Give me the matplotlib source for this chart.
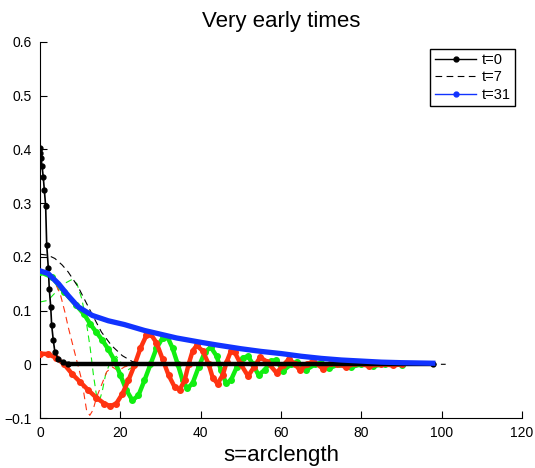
import numpy as np
import matplotlib
matplotlib.use("Agg")
import matplotlib.pyplot as plt

plt.rcParams['font.family'] = ['Liberation Sans', 'DejaVu Sans']

############## DATA ############################################
# t=0 : black, line + dots
s_t0 = [0, 0.1, 0.25, 0.5, 0.8, 1.07, 1.4, 1.66, 2.07, 2.3, 2.66, 2.9, 3.3, 3.7, 4.6, 5.7, 7, 97.8]
u_t0 = [0.402, 0.393, 0.384, 0.369, 0.349, 0.325, 0.295, 0.223, 0.179, 0.141, 0.107,
        0.073, 0.045, 0.023, 0.009, 0.004, 0.0, 0.0]

# t=7 : black dashed
s_t7 = [0, 2, 3.7, 5.5, 7, 9.5, 11.2, 12.9, 15.3, 17.8, 20.5, 23, 26, 101]
u_t7 = [0.205, 0.203, 0.197, 0.185, 0.172, 0.144, 0.119, 0.094, 0.06, 0.035, 0.016,
        0.005, 0.0, 0.0]

# t=31 : blue dots
s_t31 = [0, 2, 4.6, 7, 9.5, 13, 17, 21, 26, 30, 34, 40, 44, 50, 55, 60, 65, 70, 75,
         80, 85, 90, 97.8]
u_t31 = [0.174, 0.169, 0.150, 0.128, 0.107, 0.091, 0.081, 0.074, 0.063, 0.056, 0.049,
         0.041, 0.036, 0.029, 0.024, 0.020, 0.015, 0.011, 0.008, 0.006, 0.004, 0.003,
         0.002]

# green dashed (thin)
s_gd = [0, 2, 4, 6, 8, 9.2, 10.4, 11.5, 12.5, 13.3, 14, 14.8, 15.5, 16.3, 17.5, 19,
        20.5, 22, 24]
u_gd = [0.116, 0.119, 0.135, 0.150, 0.158, 0.150, 0.122, 0.08, 0.03, -0.02, -0.055,
        -0.068, -0.05, -0.02, 0.005, 0.015, 0.0, -0.01, 0.0]

# red dashed (thin)
s_rd = [0, 2, 3.5, 5, 6.2, 7, 8.7, 10.4, 11.6, 12.4, 13.2, 14.1, 15.5, 16.6, 18, 19.5,
        21, 23]
u_rd = [0.172, 0.168, 0.155, 0.132, 0.097, 0.07, 0.02, -0.03, -0.086, -0.095, -0.085,
        -0.061, -0.035, -0.014, -0.005, -0.012, -0.005, 0.0]

# green dots (thick)
s_g = [0, 3, 6, 9, 11, 12.5, 14, 15.5, 17, 18.5, 20, 21.5, 23, 24.5, 26, 27.5, 29,
       30.5, 31.8, 33, 34.3, 35.5, 36.7, 38, 39.5, 41, 42.5, 44, 45, 46.3, 47.5, 49,
       50.5, 51.8, 53, 54.4, 56, 57.5, 58.8, 60.5, 62.5, 64, 66.3, 68.5, 70, 72, 74.5,
       77.5, 80, 83, 86, 90]
u_g = [0.172, 0.162, 0.135, 0.11, 0.093, 0.075, 0.06, 0.045, 0.028, 0.008, -0.02,
       -0.048, -0.067, -0.058, -0.03, 0.0, 0.03, 0.049, 0.05, 0.03, 0.0, -0.03, -0.045,
       -0.035, -0.005, 0.022, 0.032, 0.015, -0.01, -0.035, -0.03, -0.005, 0.012, 0.015,
       0.0, -0.02, -0.01, 0.006, 0.008, -0.012, 0.0, 0.005, -0.01, 0.0, 0.003, -0.007,
       0.0, -0.005, 0.0, -0.003, 0.0, -0.001]

# red dots (thick)
s_r = [0, 2, 4, 6, 8, 10, 12, 14, 16, 17.5, 19, 20.5, 22, 23.5, 25, 26.5, 27.5, 29,
       30.5, 32, 33.5, 34.8, 36, 37, 38, 39, 40.5, 42, 43, 44.2, 45.5, 46.5, 47.5, 48.5,
       50, 51.8, 53.3, 54.8, 56.5, 58.9, 60.5, 62, 63.5, 64.7, 66.5, 68, 70.4, 72.5, 74,
       76.3, 78.5, 82, 85, 88, 90]
u_r = [0.020, 0.019, 0.012, 0.0, -0.018, -0.033, -0.048, -0.062, -0.073, -0.078,
       -0.073, -0.055, -0.03, -0.002, 0.03, 0.054, 0.057, 0.04, 0.01, -0.02, -0.042,
       -0.047, -0.03, 0.0, 0.025, 0.035, 0.025, 0.0, -0.025, -0.036, -0.02, 0.005, 0.024,
       0.022, 0.0, -0.022, -0.005, 0.013, 0.005, -0.016, -0.002, 0.01, 0.0, -0.011, 0.0,
       0.006, -0.008, 0.003, 0.0, -0.005, 0.002, -0.003, 0.0, -0.002, 0.0]

legend_labels = ['t=0', 't=7', 't=31']

red = '#ff3311'
green = '#11ee11'
blue = '#1133ff'

############## PLOT #####################
fig = plt.figure(figsize=(5.35, 4.68), dpi=100)
ax = fig.add_axes([0.0748, 0.1068, 0.9009, 0.8035])

l0, = ax.plot(s_t0, u_t0, '-', color='k', lw=1.2, marker='.', ms=7, zorder=5)
ax.plot(s_t0[-2:], u_t0[-2:], '-', color='k', lw=3.2, zorder=5)
l7, = ax.plot(s_t7, u_t7, color='k', lw=0.8, ls=(0, (6, 4)), zorder=4)
l31, = ax.plot(s_t31, u_t31, '-', color=blue, lw=3.8, zorder=6)
ax.plot(s_gd, u_gd, color=green, lw=0.8, ls=(0, (6, 4)), zorder=2)
ax.plot(s_rd, u_rd, color=red, lw=0.8, ls=(0, (6, 4)), zorder=2)
ax.plot(s_g, u_g, '-', color=green, lw=3.2, marker='.', ms=8, zorder=3)
ax.plot(s_r, u_r, '-', color=red, lw=3.2, marker='.', ms=8, zorder=3)

# legend handles
h0, = ax.plot([], [], '-', color='k', lw=1, marker='.', ms=7)
h7, = ax.plot([], [], color='k', lw=0.8, ls=(0, (6, 4)))
h31, = ax.plot([], [], '-', color=blue, lw=1, marker='.', ms=7)
leg = ax.legend([h0, h7, h31], legend_labels, loc='upper right', fontsize=10.5,
                fancybox=False, framealpha=1, edgecolor='k', handlelength=2.8,
                borderaxespad=0.45, labelspacing=0.22, handletextpad=0.4,
                borderpad=0.32)
leg.get_frame().set_linewidth(1.0)

ax.set_xlim(0, 120)
ax.set_ylim(-0.1, 0.6)
ax.set_xticks([0, 20, 40, 60, 80, 100, 120])
ax.set_yticks([-0.1, 0, 0.1, 0.2, 0.3, 0.4, 0.5, 0.6])
ax.set_yticklabels(['\u22120.1', '0', '0.1', '0.2', '0.3', '0.4', '0.5', '0.6'])
ax.spines['top'].set_visible(False)
ax.spines['right'].set_visible(False)
ax.tick_params(direction='in', length=5, labelsize=10, pad=6)

ax.set_title('Very early times', fontsize=16, pad=11)
ax.set_xlabel('s=arclength', fontsize=16, labelpad=3)

plt.savefig('out.png', dpi=100)
